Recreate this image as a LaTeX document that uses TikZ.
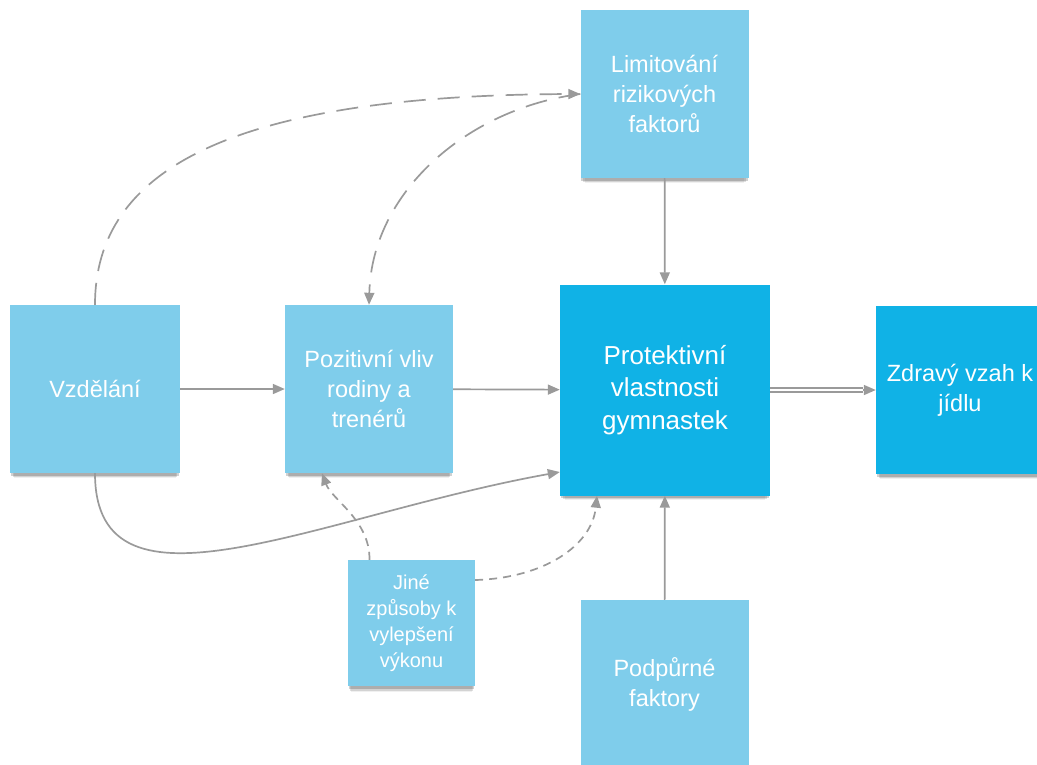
\documentclass[tikz,border=0pt]{standalone}
\usepackage{fontspec}
\setmainfont{Liberation Sans}
\usetikzlibrary{arrows.meta,positioning,calc,shadows}
\definecolor{gyLight}{HTML}{7FCDEB}
\definecolor{gyDark}{HTML}{10B2E6}
\definecolor{gyArrow}{HTML}{9A9A9A}
\tikzset{
  box/.style={fill=gyLight, text=white, minimum width=168pt, minimum height=168pt, inner sep=4pt, align=center, font=\fontsize{23.5}{30}\selectfont,
    drop shadow={shadow xshift=0pt, shadow yshift=-10pt, shadow scale=.95, opacity=.06, fill=black},
    drop shadow={shadow xshift=0pt, shadow yshift=-7pt, shadow scale=.97, opacity=.12, fill=black},
    drop shadow={shadow xshift=0pt, shadow yshift=-4pt, shadow scale=.99, opacity=.18, fill=black}},
  boxD/.style={box, fill=gyDark},
  boxS/.style={box, minimum width=127pt, minimum height=126pt, font=\fontsize{20}{26}\selectfont},
  arr/.style={-{Triangle[length=12pt,width=10pt]}, line width=1.7pt, draw=gyArrow},
  dsh/.style={arr, dash pattern=on 22pt off 12pt},
  dshS/.style={arr, dash pattern=on 8pt off 6pt},
  dbl/.style={draw=gyArrow, line width=1.6pt, double=white, double distance=2pt},
}
\begin{document}
\begin{tikzpicture}[x=1pt, y=-1pt]
  \useasboundingbox (0,0) rectangle (1037,764);
  \node[box, minimum width=170pt] (vzd) at (95,389) {Vzdělání};
  \node[box] (poz) at (369,389) {Pozitivní vliv\\rodiny a\\trenérů};
  \node[boxD, minimum width=210pt, minimum height=211pt, font=\fontsize{26}{32.5}\selectfont] (prot) at (665,390) {Protektivní\\vlastnosti\\gymnastek};
  \node[boxD] (zdr) at (960,390) {Zdravý vzah k\\jídlu};
  \node[box] (lim) at (664.5,94) {Limitování\\rizikových\\faktorů};
  \node[boxS] (jine) at (411.5,623) {Jiné\\způsoby k\\vylepšení\\výkonu};
  \node[box] (podp) at (664.5,684) {Podpůrné\\faktory};
  % straight links
  \draw[arr] (vzd) -- (poz); \draw[arr] (poz) -- (prot);
  \draw[arr] (lim) -- (prot); \draw[arr] (podp) -- (prot);
  \coordinate (zdrin) at ([xshift=-13pt]zdr.west);
  \draw[dbl] (prot.east) -- (zdrin); \draw[arr] (zdrin) -- (zdr.west);
  % curved links
  \draw[arr] (vzd.south) .. controls (95,630) and (320,515) .. ([yshift=-82pt]prot.west);
  \draw[dsh] (vzd.north) .. controls (95,170) and (230,95) .. (lim.west);
  \draw[dsh] (lim.west) .. controls (470,108) and (372,190) .. (poz.north);
  \draw[dshS] ([xshift=-42pt]jine.north) .. controls (370,520) and (332,500) .. ([xshift=-47pt]poz.south);
  \draw[dshS] ([yshift=43pt]jine.east) .. controls (545,578) and (592,545) .. ([xshift=-68pt]prot.south);
\end{tikzpicture}
\end{document}
